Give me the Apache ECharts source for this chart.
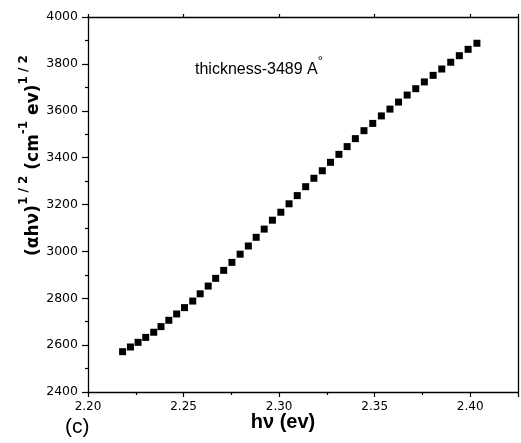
<!DOCTYPE html>
<html>
<head>
<meta charset="utf-8">
<script src="https://cdn.jsdelivr.net/npm/echarts@6/dist/echarts.min.js"></script>
<style>html,body{margin:0;padding:0;background:#fff}#c{width:521px;height:443px}</style>
</head>
<body>
<div id="c"></div>
<script>
const hv = [2.2181,2.2222,2.2262,2.2302,2.2344,2.2382,2.2423,2.2464,2.2505,2.2548,2.2587,2.2629,2.2668,2.2710,2.2753,2.2796,2.2839,2.2880,2.2922,2.2965,2.3009,2.3052,2.3095,2.3139,2.3182,2.3226,2.3269,2.3313,2.3356,2.3399,2.3444,2.3490,2.3535,2.3580,2.3625,2.3670,2.3715,2.3760,2.3806,2.3851,2.3898,2.3943,2.3989,2.4035];
const sqrtAlphaHv = [2572,2592,2612,2633,2655,2679,2706,2733,2760,2788,2819,2852,2885,2919,2953,2988,3023,3060,3095,3133,3167,3203,3238,3276,3312,3344,3380,3414,3447,3481,3515,3546,3578,3607,3637,3667,3694,3723,3751,3778,3807,3835,3862,3888];
const xTicks = ['2.20','2.25','2.30','2.35','2.40'];
const yTicks = ['2400','2600','2800','3000','3200','3400','3600','3800','4000'];

const FONT = 'Liberation Sans, Arial, sans-serif';
const TICKFONT = 'DejaVu Sans, sans-serif';
const TITLEFONT = 'DejaVu Sans, sans-serif';
const chart = echarts.init(document.getElementById('c'), null, {renderer: 'canvas'});
const axisLine = {show: true, onZero: false, lineStyle: {color: '#000', width: 1.3}};
const option = {
  animation: false,
  backgroundColor: '#fff',
  grid: {left: 88, top: 17, right: 1, bottom: 51, containLabel: false},
  xAxis: [{
    type: 'value', min: 2.2, max: 2.425, interval: 0.05, position: 'bottom',
    axisLine: axisLine,
    axisTick: {show: true, inside: false, length: 5, lineStyle: {color: '#000', width: 1.2}},
    minorTick: {show: true, splitNumber: 2, length: 3, lineStyle: {color: '#000', width: 1.2}},
    splitLine: {show: false},
    axisLabel: {color: '#000', fontFamily: TICKFONT, fontSize: 12, margin: 9,
      formatter: function (v) { const s = v.toFixed(2); return xTicks.indexOf(s) >= 0 ? s : ''; }},
    name: 'h\u03bd (ev)', nameLocation: 'middle', nameGap: 20, nameMoveOverlap: false,
    nameTextStyle: {color: '#000', fontFamily: FONT, fontSize: 20, fontWeight: 'bold', padding: [0, 40, 0, 0]}
  }, {
    type: 'value', min: 2.2, max: 2.425, interval: 0.05, position: 'top',
    axisLine: axisLine,
    axisTick: {show: true, inside: false, length: 3, lineStyle: {color: '#000', width: 1.2}},
    splitLine: {show: false}, axisLabel: {show: false}
  }],
  yAxis: [{
    type: 'value', min: 2400, max: 4000, interval: 200, position: 'left',
    axisLine: axisLine,
    axisTick: {show: true, inside: false, length: 6, lineStyle: {color: '#000', width: 1.2}},
    minorTick: {show: true, splitNumber: 2, length: 3, lineStyle: {color: '#000', width: 1.2}},
    splitLine: {show: false},
    axisLabel: {color: '#000', fontFamily: TICKFONT, fontSize: 12.5, margin: 10,
      formatter: function (v) { const s = String(Math.round(v)); return yTicks.indexOf(s) >= 0 ? s : ''; }},
    name: '{m|(\u03b1h\u03bd)}{s|1 / 2}{m| (cm}{s|-1}{m| ev)}{s|1 / 2}',
    nameLocation: 'middle', nameGap: 46, nameMoveOverlap: false,
    nameTextStyle: {color: '#000', fontFamily: TITLEFONT, fontWeight: 'bold', padding: [0, 0, 0, 98],
      rich: {
        m: {fontFamily: TITLEFONT, fontSize: 17, fontWeight: 'bold', color: '#000', lineHeight: 24, verticalAlign: 'bottom'},
        s: {fontFamily: TITLEFONT, fontSize: 12, fontWeight: 'bold', color: '#000', lineHeight: 14, verticalAlign: 'top'}
      }}
  }, {
    type: 'value', min: 2400, max: 4000, interval: 200, position: 'right',
    axisLine: axisLine, axisTick: {show: false}, splitLine: {show: false}, axisLabel: {show: false}
  }],
  graphic: [{
    type: 'text', left: 195, top: 55,
    style: {
      text: '{t|thickness-3489 A}{d|\u00b0}',
      rich: {
        t: {fontFamily: FONT, fontSize: 16, fill: '#000', lineHeight: 23, verticalAlign: 'bottom'},
        d: {fontFamily: FONT, fontSize: 13, fill: '#000', lineHeight: 14, verticalAlign: 'top'}
      }
    }
  }, {
    type: 'text', left: 65, top: 417,
    style: {text: '(c)', fontFamily: FONT, fontSize: 21, fill: '#000'}
  }],
  series: [{
    type: 'scatter', xAxisIndex: 0, yAxisIndex: 0,
    symbol: 'rect', symbolSize: 7,
    itemStyle: {color: '#000', opacity: 1},
    data: hv.map(function (x, i) { return [x, sqrtAlphaHv[i]]; })
  }]
};
chart.setOption(option);
</script>
</body>
</html>
